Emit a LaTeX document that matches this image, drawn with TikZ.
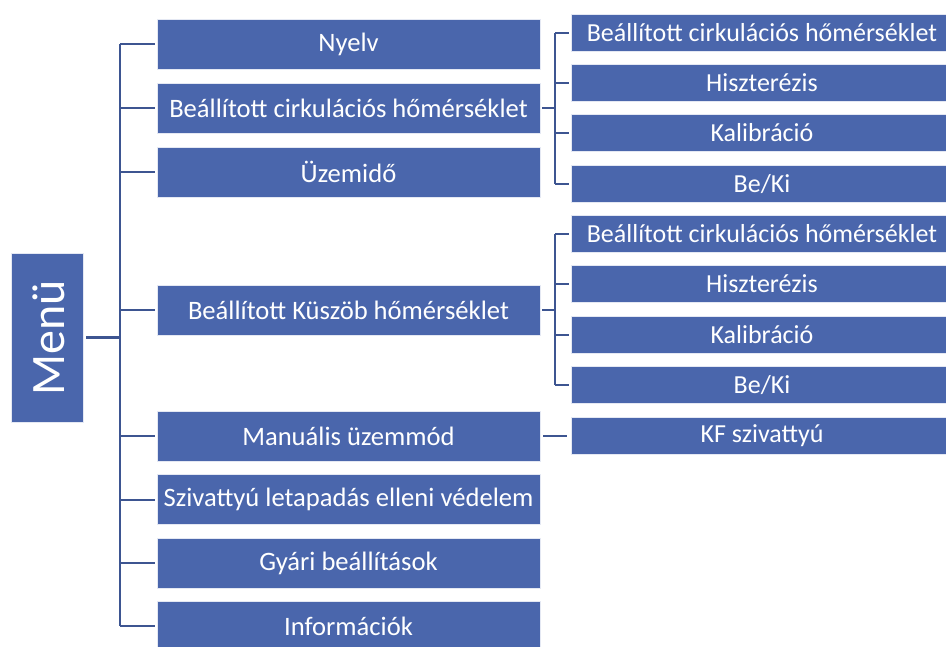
\documentclass[tikz,border=0pt]{standalone}
\usepackage{fontspec}
\setmainfont{Carlito}
\definecolor{boxblue}{HTML}{4A66AC}
\definecolor{linkblue}{HTML}{3D5591}
\begin{document}
\begin{tikzpicture}[x=1pt,y=-1pt,
  box/.style={rectangle,fill=boxblue,draw=white!85!boxblue,line width=0.6pt,text=white,inner sep=0pt,anchor=center},
  lbox/.style={box,minimum width=383pt,minimum height=50pt,font=\fontsize{26.6}{29}\selectfont},
  rbox/.style={box,minimum width=382pt,minimum height=37pt,font=\fontsize{26}{28}\selectfont},
  conn/.style={draw=linkblue,line width=2pt}]
\clip (0,0) rectangle (946,646);
\fill[white] (0,0) rectangle (946,646);
% Menu
\node[box,minimum width=72pt,minimum height=169pt] (menu) at (47,337.5) {};
\node[text=white,rotate=90,font=\fontsize{48}{52}\selectfont,inner sep=0pt] (menut) at ([xshift=2pt]menu.center) {Menü};
% left column
\node[lbox] (n1) at (348.5,44) {Nyelv};
\node[lbox] (n2) at (348.5,108) {Beállított cirkulációs hőmérséklet};
\node[lbox] (n3) at (348.5,172) {Üzemidő};
\node[lbox] (n4) at (348.5,310) {Beállított Küszöb hőmérséklet};
\node[lbox] (n5) at (348.5,436) {Manuális üzemmód};
\node[lbox] (n6) at (348.5,499.5) {Szivattyú letapadás elleni védelem};
\node[lbox] (n7) at (348.5,563) {Gyári beállítások};
\node[lbox] (n8) at (348.5,626) {Információk};
% right column group 1
\node[rbox] (a1) at (762,32.5) {Beállított cirkulációs hőmérséklet};
\node[rbox] (a2) at (762,82.5) {Hiszterézis};
\node[rbox] (a3) at (762,133) {Kalibráció};
\node[rbox] (a4) at (762,184) {Be/Ki};
% right column group 2
\node[rbox] (b1) at (762,234) {Beállított cirkulációs hőmérséklet};
\node[rbox] (b2) at (762,284) {Hiszterézis};
\node[rbox] (b3) at (762,335) {Kalibráció};
\node[rbox] (b4) at (762,385) {Be/Ki};
% KF
\node[rbox] (k1) at (762,435.5) {KF szivattyú};
% trunk
\coordinate (tx) at (120,0);
\coordinate (sx) at (555,0);
\draw[conn,line width=3pt] ([xshift=3pt]menu.east) -- (menu.east -| tx);
\draw[conn] (n1.west -| tx) -- (n8.west -| tx);
\foreach \n in {n1,n2,n3,n4,n5,n6,n7,n8}{
  \draw[conn] (\n.west -| tx) -- ([xshift=-2pt]\n.west);
}
% group 1
\draw[conn] ([xshift=2pt]n2.east) -- (n2.east -| sx);
\draw[conn] (a1.west -| sx) -- (a4.west -| sx);
\foreach \n in {a1,a2,a3,a4}{
  \draw[conn] (\n.west -| sx) -- ([xshift=-2pt]\n.west);
}
% group 2
\draw[conn] ([xshift=2pt]n4.east) -- (n4.east -| sx);
\draw[conn] (b1.west -| sx) -- (b4.west -| sx);
\foreach \n in {b1,b2,b3,b4}{
  \draw[conn] (\n.west -| sx) -- ([xshift=-2pt]\n.west);
}
% KF
\draw[conn] ([xshift=3pt]n5.east) -- ([xshift=-4pt]n5.east -| k1.west);
\end{tikzpicture}
\end{document}
